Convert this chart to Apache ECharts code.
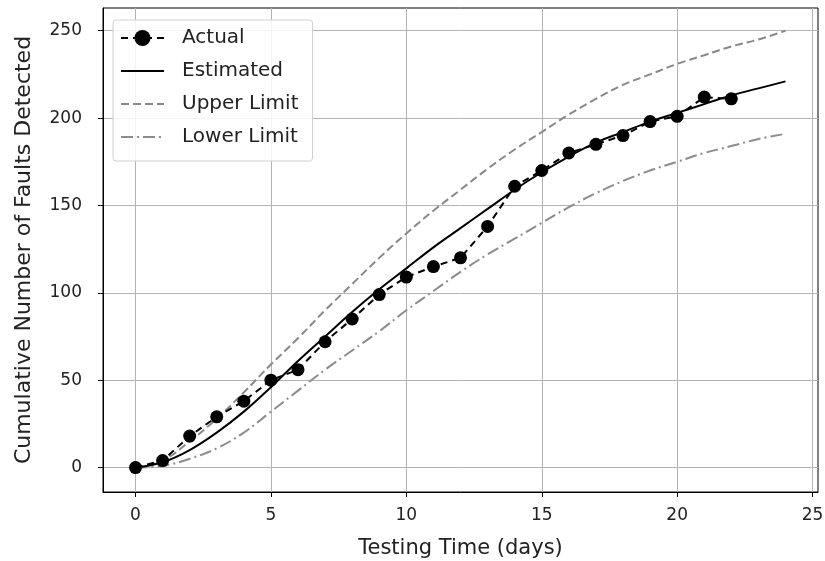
<!DOCTYPE html>
<html>
<head>
<meta charset="utf-8">
<script src="https://cdn.jsdelivr.net/npm/echarts@6/dist/echarts.min.js"></script>
<style>
html,body{margin:0;padding:0;background:#fff;}
#chart{width:825px;height:561px;}
</style>
</head>
<body>
<div id="chart"></div>
<script>
// ---- data ----
const actualDays = [0,1,2,3,4,5,6,7,8,9,10,11,12,13,14,15,16,17,18,19,20,21,22];
const actualFaults = [0,4,18,29,38,50,56,72,85,99,109,115,120,138,161,170,180,185,190,198,201,212,211];
const curveDays = [0,1,2,3,4,5,6,7,8,9,10,11,12,13,14,15,16,17,18,19,20,21,22,23,24];
const estimated = [0,3,10,20,32,46,61,75,89,102,114,126,137,148,159,169,178,186,192,198,203,208,213,217,221];
const upperLimit = [0,4,15,28,43,59,74,90,105,120,134,147,159,171,182,192,202,211,219,225,231,236,241,245,250];
const lowerLimit = [0,1,5,11,20,32,44,56,67,78,90,101,112,122,131,140,149,157,164,170,175,180,184,188,191];
const xTicks = [0,5,10,15,20,25];
const yTicks = [0,50,100,150,200,250];
const seriesNames = ['Actual','Estimated','Upper Limit','Lower Limit'];
const xAxisTitle = 'Testing Time (days)';
const yAxisTitle = 'Cumulative Number of Faults Detected';

function pairs(xs, ys){ return xs.map((x,i)=>[x, ys[i]]); }

const FONT = 'DejaVu Sans';
const HIDE = {color:'rgba(0,0,0,0)', borderColor:'rgba(0,0,0,0)', borderWidth:0};
const chart = echarts.init(document.getElementById('chart'), null, {renderer:'canvas'});
chart.setOption({
  animation: false,
  backgroundColor: '#fff',
  grid: {left:103, right:7, top:8, bottom:69, show:true, borderColor:'#000', borderWidth:1,
         backgroundColor:'transparent', containLabel:false, outerBoundsMode:'none'},
  xAxis: {
    type:'value', min:-1.2, max:25.2,
    name: xAxisTitle, nameLocation:'middle', nameGap:46,
    nameTextStyle:{fontFamily:FONT, fontSize:21, color:'#222'},
    axisLine:{show:true, onZero:false, lineStyle:{color:'#000', width:1}},
    axisTick:{show:true, length:5, lineStyle:{color:'#000'}, customValues:xTicks},
    axisLabel:{fontFamily:FONT, fontSize:17, color:'#222', margin:15, customValues:xTicks},
    splitLine:{show:true, lineStyle:{color:'#b3b3b3', width:1}}
  },
  yAxis: {
    type:'value', min:-14, max:263,
    name: yAxisTitle, nameLocation:'middle', nameGap:68, nameRotate:90,
    nameTextStyle:{fontFamily:FONT, fontSize:22, color:'#222'},
    axisLine:{show:true, onZero:false, lineStyle:{color:'#000', width:1}},
    axisTick:{show:true, length:5, lineStyle:{color:'#000'}, customValues:yTicks},
    axisLabel:{fontFamily:FONT, fontSize:17, color:'#222', margin:21, customValues:yTicks},
    splitLine:{show:true, lineStyle:{color:'#b3b3b3', width:1}}
  },
  legend: {
    orient:'vertical', left:113, top:20,
    data: [
      {name: seriesNames[0]},
      {name: seriesNames[1], itemStyle: HIDE},
      {name: seriesNames[2], itemStyle: HIDE},
      {name: seriesNames[3], itemStyle: HIDE}
    ],
    itemWidth:43, itemHeight:20, itemGap:13,
    padding:[8,14,14,7],
    backgroundColor:'rgba(255,255,255,0.85)',
    borderColor:'#d0d0d0', borderWidth:1, borderRadius:3,
    textStyle:{fontFamily:FONT, fontSize:20, color:'#222', padding:[0,0,0,13]}
  },
  series: [
    {
      name: seriesNames[0], type:'line', data: pairs(actualDays, actualFaults),
      symbol:'circle', symbolSize:13, showSymbol:true,
      itemStyle:{color:'#000'},
      lineStyle:{color:'#000', width:2, type:[7,5]},
      z:3
    },
    {
      name: seriesNames[1], type:'line', data: pairs(curveDays, estimated),
      symbol:'none', smooth:0.4,
      itemStyle:{color:'#000'},
      lineStyle:{color:'#000', width:2, type:'solid'},
      z:4
    },
    {
      name: seriesNames[2], type:'line', data: pairs(curveDays, upperLimit),
      symbol:'none', smooth:0.4,
      itemStyle:{color:'#888'},
      lineStyle:{color:'#888', width:2, type:[8,4]},
      z:2
    },
    {
      name: seriesNames[3], type:'line', data: pairs(curveDays, lowerLimit),
      symbol:'none', smooth:0.4,
      itemStyle:{color:'#8c8c8c'},
      lineStyle:{color:'#8c8c8c', width:2, type:[12,4,2,4]},
      z:2
    }
  ]
});
</script>
</body>
</html>
